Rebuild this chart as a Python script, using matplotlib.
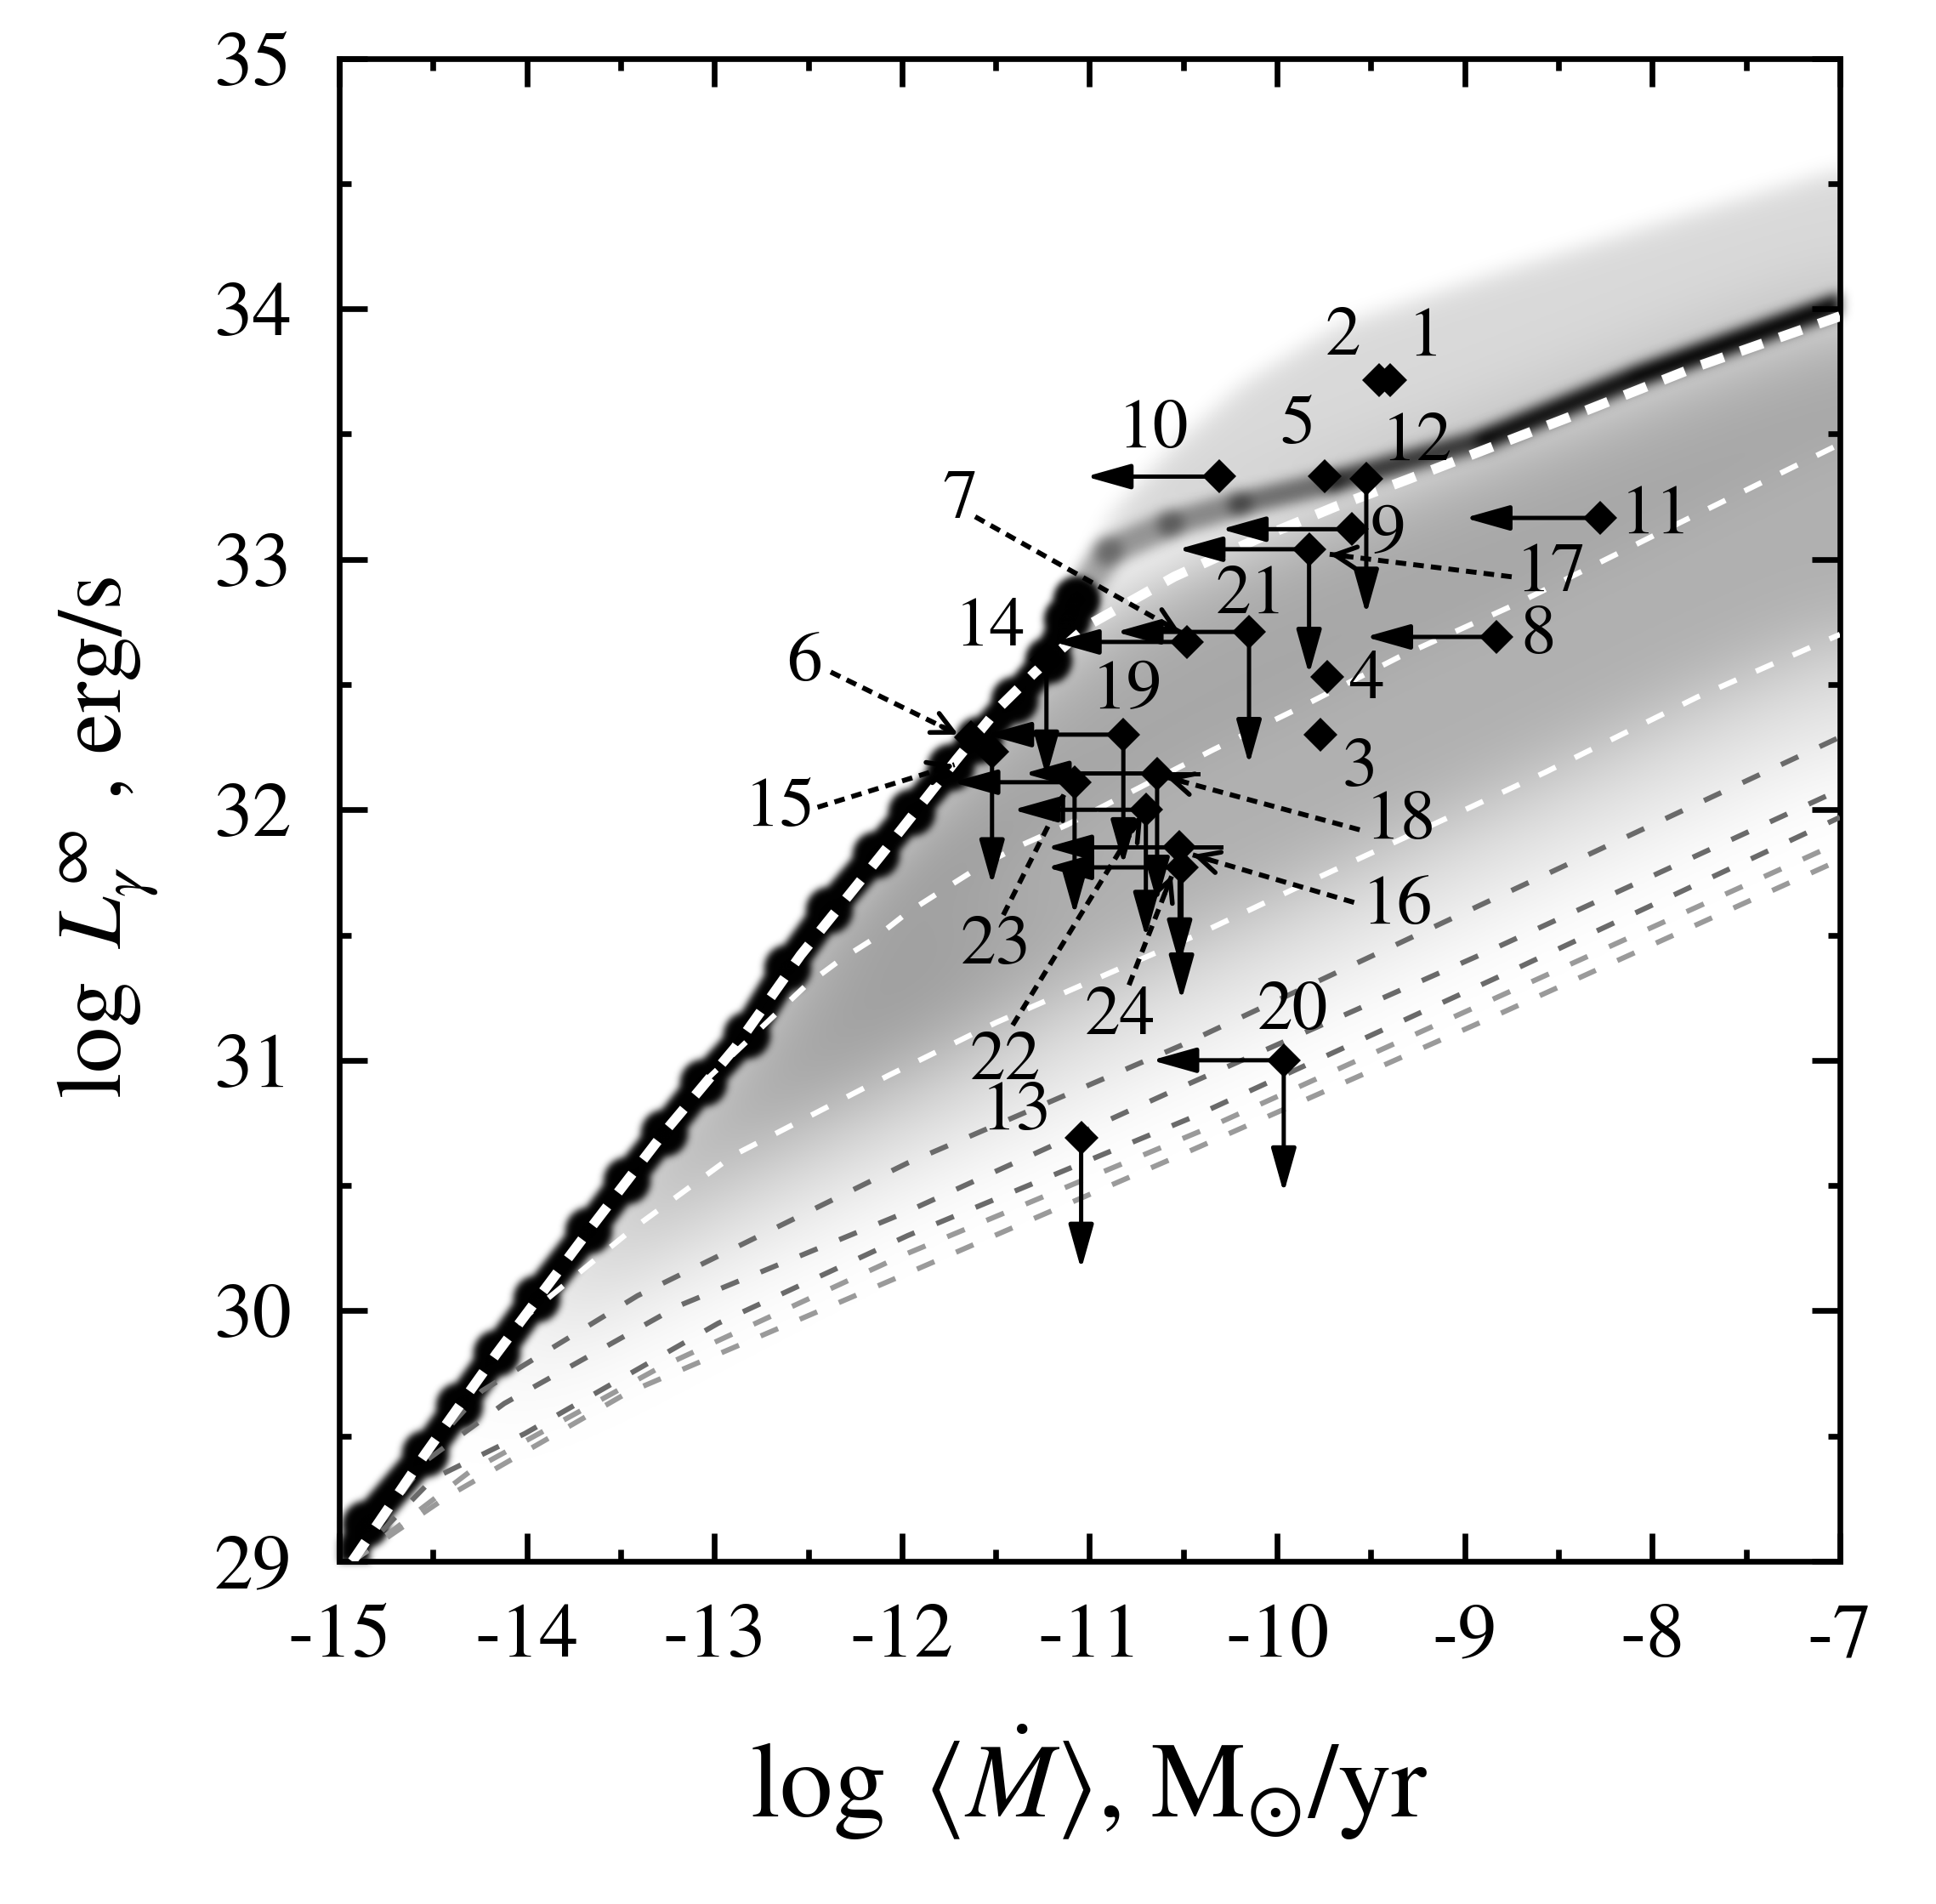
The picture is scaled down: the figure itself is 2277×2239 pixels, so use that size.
import numpy as np
import matplotlib
matplotlib.use('Agg')
import matplotlib.pyplot as plt
import matplotlib.colors as mcolors
from matplotlib.collections import LineCollection
from matplotlib.path import Path
from matplotlib.ticker import MultipleLocator

plt.rcParams['font.family'] = 'STIXGeneral'
plt.rcParams['mathtext.fontset'] = 'stix'
plt.rcParams['axes.unicode_minus'] = False
plt.rcParams['lines.scale_dashes'] = False

# axis range
x_lo, x_hi = -15, -7
y_lo, y_hi = 29, 35

# cooling curve (black, with blobs)
main_x = [-14.96, -14.86, -14.54, -14.36, -14.16, -13.95, -13.67, -13.47, -13.27, -13.06, -12.83,
          -12.61, -12.39, -12.14, -11.95, -11.74, -11.59, -11.40, -11.22, -11.12, -11.07]
main_y = [28.99, 29.15, 29.43, 29.62, 29.83, 30.05, 30.32, 30.52, 30.71, 30.91, 31.10,
          31.37, 31.60, 31.82, 31.99, 32.17, 32.28, 32.44, 32.60, 32.76, 32.84]

# thick white dashed curve
d_x = [-14.93, -14.54, -14.16, -13.67, -13.27, -12.89, -12.54, -12.11, -11.71, -11.48, -11.29,
       -11.0, -10.55, -10.11, -9.69, -9.30, -8.85, -8.40, -7.76, -7.0]
d_y = [29.0, 29.43, 29.83, 30.32, 30.71, 31.05, 31.42, 31.82, 32.20, 32.41, 32.55,
       32.74, 32.93, 33.08, 33.21, 33.32, 33.45, 33.58, 33.77, 33.97]

# thin white dashed curves
c_x = [-13.06, -12.51, -12.33, -12.14, -11.97, -11.76, -11.57, -11.36, -11.12, -10.73, -10.34,
       -9.90, -9.35, -8.73, -7.87, -7.0]
c_y = [30.91, 31.30, 31.40, 31.49, 31.59, 31.69, 31.78, 31.86, 31.94, 32.09, 32.24,
       32.40, 32.61, 32.82, 33.14, 33.46]
b_x = [-14.05, -13.43, -12.90, -12.07, -11.50, -10.43, -9.78, -8.97, -8.57, -7.76, -7.0]
b_y = [29.95, 30.33, 30.62, 30.94, 31.15, 31.50, 31.73, 32.01, 32.15, 32.45, 32.70]

# grey dashed curves
g1_x = [-14.93, -14.54, -14.24, -13.41, -11.97, -10.51, -8.83, -7.0]
g1_y = [29.0, 29.43, 29.68, 30.06, 30.59, 31.06, 31.65, 32.29]
g2_x = [-14.93, -14.54, -14.12, -13.19, -11.99, -10.55, -8.89, -7.0]
g2_y = [29.0, 29.40, 29.63, 30.02, 30.39, 30.88, 31.43, 32.08]
g3_x = [-14.93, -14.50, -14.01, -12.98, -11.97, -10.46, -8.80, -7.0]
g3_y = [29.0, 29.33, 29.51, 29.95, 30.30, 30.77, 31.34, 31.97]
g4_x = [-14.93, -14.30, -13.30, -12.00, -10.40, -8.92, -7.0]
g4_y = [29.0, 29.36, 29.77, 30.22, 30.72, 31.22, 31.87]
g5_x = [-14.93, -14.42, -13.47, -11.97, -10.52, -8.86, -7.0]
g5_y = [29.0, 29.26, 29.67, 30.15, 30.62, 31.17, 31.80]

# upper edge of the grey band and dark ridge above the thick curve
u_x = [-11.10, -10.90, -10.60, -10.20, -9.70, -8.90, -7.90, -7.0]
u_y = [32.90, 33.20, 33.45, 33.72, 33.95, 34.15, 34.38, 34.58]
e_x = [-11.07, -10.90, -10.57, -10.20, -9.70, -8.89, -8.08, -7.0]
e_y = [32.84, 33.03, 33.14, 33.22, 33.31, 33.48, 33.73, 34.02]

# observed objects 1..24
pt_x = [-9.40, -9.455, -9.77, -9.735, -9.745, -11.63, -10.48, -8.83, -9.60, -10.31, -8.28, -9.525,
        -11.045, -11.23, -11.52, -10.52, -9.83, -10.64, -10.82, -9.965, -10.15, -10.70, -11.08, -10.51]
pt_y = [33.715, 33.715, 32.30, 32.53, 33.33, 32.29, 32.67, 32.69, 33.12, 33.33, 33.165, 33.32,
        30.69, 32.60, 32.23, 31.85, 33.04, 32.145, 32.30, 31.00, 32.71, 32.00, 32.11, 31.77]
left_tip = [None, None, None, None, None, None, -11.19, -9.53, -10.30, -11.02, -9.00, None,
            None, None, None, -11.23, -10.53, -11.35, -11.55, -10.67, -10.86, -11.41, -11.73, -11.23]
down_tip = [None, None, None, None, None, None, None, None, None, None, None, 32.78,
            30.165, 32.13, 31.70, 31.38, 32.54, 31.63, 31.78, 30.47, 32.18, 31.49, 31.58, 31.24]
right_end = [None] * 15 + [-10.30, None, -10.42] + [None] * 6

lab_x = [-9.21, -9.65, -9.56, -9.52, -9.89, -12.52, -11.69, -8.61, -9.41, -10.66, -7.98, -9.255,
         -11.39, -11.53, -12.65, -9.36, -8.54, -9.34, -10.80, -9.92, -10.14, -11.45, -11.50, -10.84]
lab_y = [33.88, 33.88, 32.16, 32.51, 33.53, 32.58, 33.23, 32.69, 33.09, 33.51, 33.17, 33.46,
         30.79, 32.72, 32.00, 31.61, 32.94, 31.95, 32.47, 31.19, 32.85, 30.99, 31.45, 31.17]

# dotted pointer lines: label number, start, end
ptr_id = [7, 6, 15, 17, 18, 16, 22, 23, 24]
ptr_x0 = [-11.61, -12.38, -12.45, -8.75, -9.56, -9.59, -11.41, -11.46, -10.79]
ptr_y0 = [33.17, 32.55, 32.01, 32.93, 31.92, 31.63, 31.14, 31.58, 31.30]
ptr_x1 = [-10.52, -11.70, -11.72, -9.72, -10.59, -10.45, -10.72, -11.13, -10.56]
ptr_y1 = [32.71, 32.30, 32.18, 33.02, 32.13, 31.82, 31.98, 32.07, 31.74]


def blur2d(a, s, mode):
    r = int(3 * s) + 1
    k = np.exp(-0.5 * (np.arange(-r, r + 1) / s) ** 2)
    k /= k.sum()
    a = np.pad(a, r, mode=mode)
    for axis in (0, 1):
        n = a.shape[axis] + 2 * r
        fa = np.fft.rfft(a, n=n, axis=axis)
        fk = np.fft.rfft(k, n=n)
        shp = [1, 1]
        shp[axis] = -1
        full = np.fft.irfft(fa * fk.reshape(shp), n=n, axis=axis)
        idx = [slice(None), slice(None)]
        idx[axis] = slice(r, r + a.shape[axis])
        a = full[tuple(idx)]
    return a[r:-r, r:-r]


def soft(color, sigma):
    rgb = mcolors.to_rgb(color)

    def filt(im, dpi):
        p = int(3 * sigma) + 1
        b = blur2d(np.pad(im[:, :, 3].astype(float), p), sigma, 'constant')
        out = np.empty(b.shape + (4,))
        out[..., :3] = rgb
        out[..., 3] = np.clip(b, 0, 1)
        return out, -p, -p
    return filt


fig = plt.figure(figsize=(11.385, 11.195), dpi=200)
ax = fig.add_axes([0.1752, 0.18, 0.7752, 0.7894])
ax.set_xlim(x_lo, x_hi)
ax.set_ylim(y_lo, y_hi)

# grey model density: polygons from the curves, softened on a grid
nx, ny = 880, 880
gxs = x_lo + (np.arange(nx) + 0.5) * (x_hi - x_lo) / nx
gys = y_lo + (np.arange(ny) + 0.5) * (y_hi - y_lo) / ny
GX, GY = np.meshgrid(gxs, gys)
cells = np.column_stack([GX.ravel(), GY.ravel()])


def pts(xs, ys):
    return list(zip(xs, ys))


def region(poly, sigma):
    inside = Path(poly + [poly[0]]).contains_points(cells).reshape(ny, nx).astype(float)
    return blur2d(inside, sigma, 'edge')


poly_b = [(x, y) for x, y in zip(d_x, d_y) if x >= b_x[0]] + pts(b_x, b_y)[::-1]
poly_g = pts(d_x, d_y) + pts(g1_x, g1_y)[::-1]
poly_c = [(x, y) for x, y in zip(d_x, d_y) if x >= c_x[0]] + pts(c_x, c_y)[::-1]
poly_left = [(x, y) for x, y in zip(main_x, main_y) if b_x[0] <= x <= -11.59] \
    + [(x, y) for x, y in zip(b_x, b_y) if x <= -11.5][::-1]
poly_up = pts(e_x, e_y) + pts(u_x, u_y)[::-1]
poly_mask = [(x_lo, y_hi), (x_hi, y_hi), (x_hi, u_y[-1])] + pts(u_x, u_y)[::-1] \
    + pts(main_x, main_y)[::-1] + [(x_lo, y_lo)]

keep = (1 - 0.20 * region(poly_b, 22)) * (1 - 0.14 * region(poly_g, 30)) \
    * (1 - 0.05 * region(poly_c, 12)) * (1 - 0.14 * region(poly_left, 45)) \
    * (1 - 0.15 * region(poly_up, 10))
dark = (1 - keep) * (1 - region(poly_mask, 6))
rgba = np.zeros((ny, nx, 4))
rgba[..., 3] = np.clip(dark, 0, 1)
ax.imshow(rgba, extent=(x_lo, x_hi, y_lo, y_hi), origin='lower', aspect='auto',
          interpolation='bilinear', zorder=1)

# dark ridge along the upper curve
segs = [[(e_x[i], e_y[i]), (e_x[i + 1], e_y[i + 1])] for i in range(len(e_x) - 1)]
ridge_alpha = [0.3, 0.35, 0.4, 0.5, 0.75, 0.95, 1.0]
ridge_width = [13, 12, 11, 10, 9, 9, 9]
lc = LineCollection(segs, colors=[(0, 0, 0, a) for a in ridge_alpha], linewidths=ridge_width,
                    capstyle='round', zorder=2)
lc.set_agg_filter(soft('k', 7))
ax.add_collection(lc)

# black cooling curve
ln, = ax.plot(main_x, main_y, '-o', color='k', lw=13.5, ms=20, mew=0, zorder=3,
              solid_capstyle='round')
ln.set_agg_filter(soft('k', 4))

# dashed curves
for gx, gy, col in [(g5_x, g5_y, '#9a9a9a'), (g4_x, g4_y, '#9a9a9a'), (g3_x, g3_y, '#6a6a6a'),
                    (g2_x, g2_y, '#6a6a6a'), (g1_x, g1_y, '#6a6a6a')]:
    ax.plot(gx, gy, color=col, lw=2.2, dashes=(8, 10), zorder=4)
ax.plot(b_x, b_y, color='white', lw=2.3, dashes=(8, 9), zorder=4)
ax.plot(c_x, c_y, color='white', lw=2.3, dashes=(8, 9), zorder=4)
ax.plot(d_x, d_y, color='white', lw=4.2, dashes=(10, 7.5), zorder=5)

# limits (arrows)
head = '-|>,head_length=1.6,head_width=0.45'
for i in range(len(pt_x)):
    if left_tip[i] is not None:
        ax.annotate('', xy=(left_tip[i], pt_y[i]), xytext=(pt_x[i], pt_y[i]),
                    arrowprops=dict(arrowstyle=head, lw=1.8, color='k', shrinkA=0, shrinkB=0,
                                    mutation_scale=10), zorder=6)
    if down_tip[i] is not None:
        ax.annotate('', xy=(pt_x[i], down_tip[i]), xytext=(pt_x[i], pt_y[i]),
                    arrowprops=dict(arrowstyle=head, lw=1.8, color='k', shrinkA=0, shrinkB=0,
                                    mutation_scale=10), zorder=6)
    if right_end[i] is not None:
        ax.plot([pt_x[i], right_end[i]], [pt_y[i], pt_y[i]], color='k', lw=1.8, zorder=6)

# dotted pointers from labels
for k in range(len(ptr_id)):
    ax.plot([ptr_x0[k], ptr_x1[k]], [ptr_y0[k], ptr_y1[k]], color='k', lw=2.1,
            ls=(0, (4.5, 3)), zorder=6)
    p0 = ax.transData.transform((ptr_x0[k], ptr_y0[k]))
    p1 = ax.transData.transform((ptr_x1[k], ptr_y1[k]))
    dist = np.hypot(*(p1 - p0)) * 72 / fig.dpi
    ax.annotate('', xy=(ptr_x1[k], ptr_y1[k]), xytext=(ptr_x0[k], ptr_y0[k]),
                arrowprops=dict(arrowstyle='->,head_length=0.9,head_width=0.45', lw=2.0,
                                color='k', shrinkA=dist - 8, shrinkB=0, mutation_scale=10),
                zorder=6)

ax.plot(pt_x, pt_y, 'D', color='k', ms=10, mew=0, zorder=7)
for i in range(len(pt_x)):
    ax.text(lab_x[i], lab_y[i], str(i + 1), fontsize=30, ha='center', va='center', zorder=8)

# axes styling
for sp in ax.spines.values():
    sp.set_linewidth(2.4)
ax.xaxis.set_major_locator(MultipleLocator(1))
ax.xaxis.set_minor_locator(MultipleLocator(0.5))
ax.yaxis.set_major_locator(MultipleLocator(1))
ax.yaxis.set_minor_locator(MultipleLocator(0.5))
ax.tick_params(which='both', direction='in', top=True, right=True, width=2.4, labelsize=33)
ax.tick_params(which='major', length=12)
ax.tick_params(which='minor', length=5.2)
ax.tick_params(axis='x', pad=18)
ax.tick_params(axis='y', pad=20)

fig.text(0.5625, 0.064, r'$\log\ \left\langle \dot{M} \right\rangle$, M$_{\odot}$/yr',
         fontsize=45, ha='center', va='center')
fig.text(0.056, 0.56, r'$\log\ L_{\gamma}^{\infty}$ , erg/s', fontsize=39,
         rotation=90, ha='center', va='center')

fig.savefig('out.png', dpi=200)
